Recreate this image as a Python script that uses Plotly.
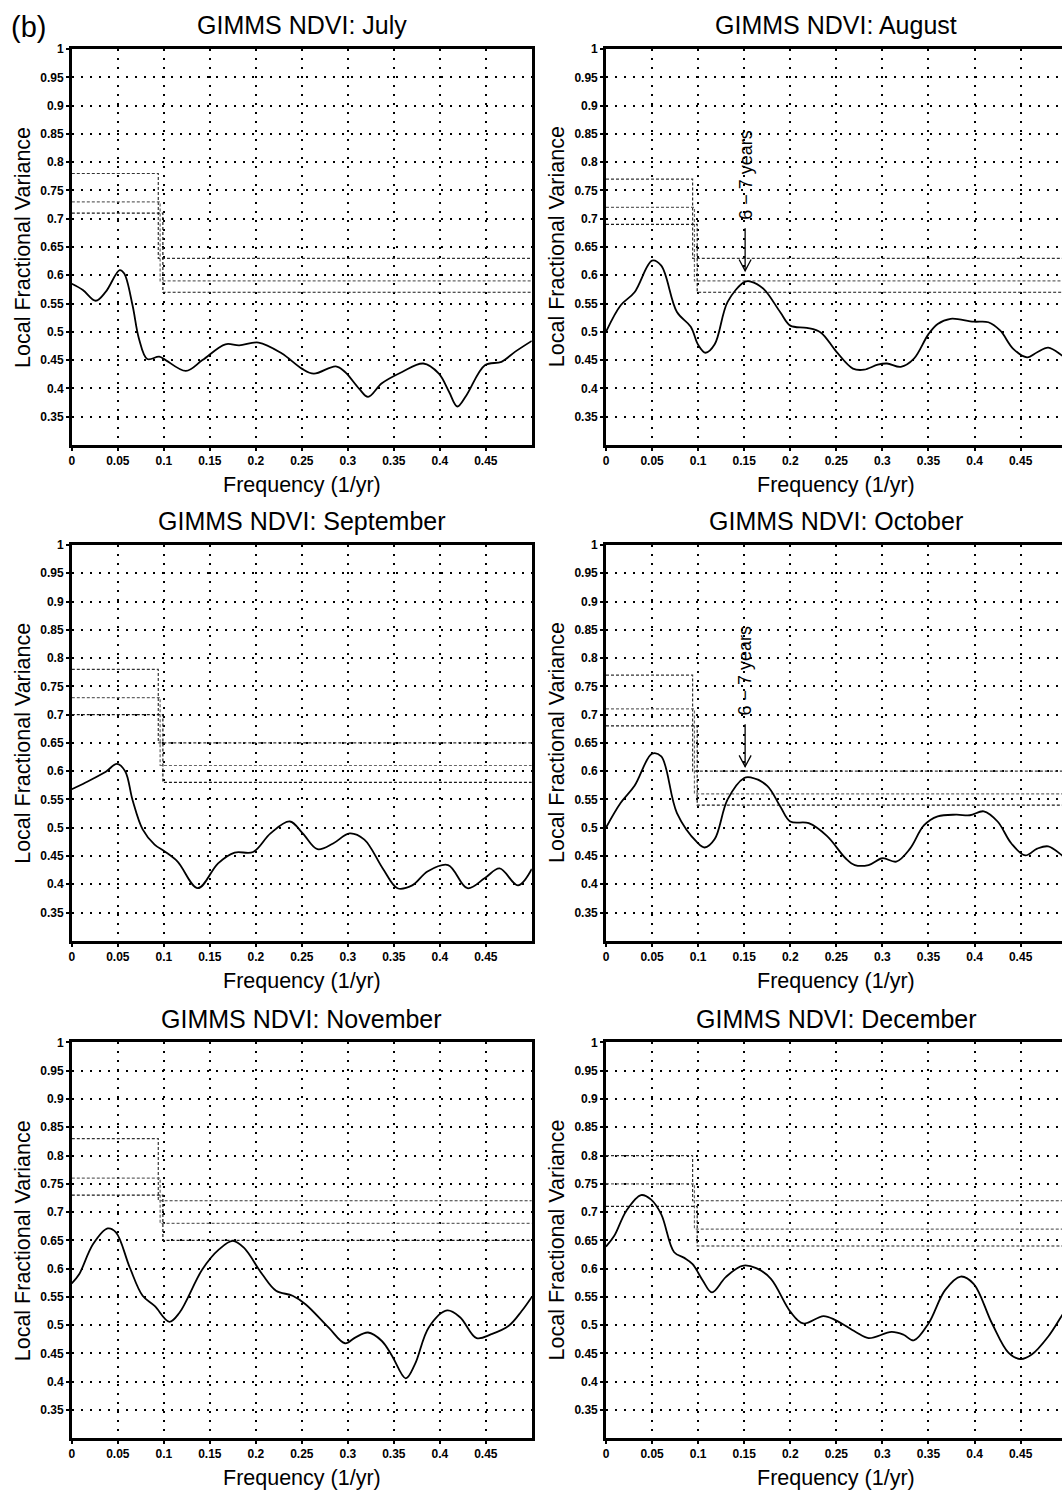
import plotly.graph_objects as go

# ---------------- data ----------------
months = ["July", "August", "September", "October", "November", "December"]

freq_jul = [0, 0.012, 0.026, 0.037, 0.052, 0.057, 0.066, 0.073, 0.082, 0.095, 0.102, 0.124, 0.142, 0.167,
            0.182, 0.203, 0.228, 0.25, 0.263, 0.287, 0.297, 0.312, 0.322, 0.337, 0.359, 0.382, 0.399, 0.41,
            0.419, 0.429, 0.449, 0.467, 0.482, 0.5]
lfv_jul = [0.585, 0.574, 0.555, 0.571, 0.609, 0.603, 0.547, 0.488, 0.452, 0.456, 0.45, 0.431, 0.45, 0.478,
           0.476, 0.481, 0.462, 0.435, 0.426, 0.439, 0.429, 0.4, 0.385, 0.409, 0.429, 0.444, 0.426, 0.394,
           0.368, 0.388, 0.441, 0.447, 0.465, 0.484]

freq_aug = [0, 0.016, 0.031, 0.05, 0.06, 0.077, 0.092, 0.1, 0.108, 0.118, 0.132, 0.15, 0.157, 0.171, 0.189,
            0.2, 0.218, 0.233, 0.25, 0.268, 0.28, 0.295, 0.305, 0.32, 0.334, 0.35, 0.36, 0.374, 0.399, 0.415,
            0.428, 0.442, 0.457, 0.468, 0.48, 0.495, 0.5]
lfv_aug = [0.5, 0.547, 0.57, 0.626, 0.617, 0.535, 0.509, 0.477, 0.463, 0.478, 0.553, 0.588, 0.589, 0.576,
           0.535, 0.511, 0.507, 0.499, 0.465, 0.435, 0.433, 0.442, 0.444, 0.438, 0.452, 0.496, 0.514, 0.523,
           0.518, 0.517, 0.502, 0.47, 0.455, 0.464, 0.472, 0.458, 0.452]

freq_sep = [0, 0.015, 0.037, 0.049, 0.058, 0.066, 0.077, 0.09, 0.101, 0.115, 0.137, 0.159, 0.177, 0.197,
            0.216, 0.237, 0.251, 0.267, 0.284, 0.302, 0.318, 0.338, 0.354, 0.37, 0.387, 0.409, 0.43, 0.449,
            0.465, 0.485, 0.5]
lfv_sep = [0.568, 0.58, 0.599, 0.613, 0.6, 0.549, 0.497, 0.47, 0.458, 0.44, 0.393, 0.437, 0.456, 0.457,
           0.49, 0.511, 0.49, 0.462, 0.472, 0.49, 0.479, 0.428, 0.393, 0.398, 0.423, 0.434, 0.393, 0.411,
           0.428, 0.398, 0.427]

freq_oct = [0, 0.016, 0.031, 0.05, 0.06, 0.077, 0.099, 0.107, 0.118, 0.132, 0.15, 0.157, 0.175, 0.189, 0.2,
            0.22, 0.24, 0.26, 0.27, 0.285, 0.3, 0.315, 0.33, 0.345, 0.36, 0.38, 0.395, 0.41, 0.425, 0.44,
            0.455, 0.468, 0.48, 0.495, 0.5]
lfv_oct = [0.5, 0.544, 0.574, 0.631, 0.626, 0.526, 0.474, 0.465, 0.48, 0.55, 0.588, 0.589, 0.574, 0.538,
           0.511, 0.508, 0.485, 0.446, 0.434, 0.434, 0.446, 0.44, 0.463, 0.504, 0.52, 0.523, 0.522, 0.529,
           0.511, 0.472, 0.451, 0.463, 0.467, 0.451, 0.445]

freq_nov = [0, 0.008, 0.023, 0.039, 0.048, 0.063, 0.077, 0.09, 0.106, 0.117, 0.142, 0.16, 0.175, 0.187,
            0.207, 0.222, 0.24, 0.254, 0.279, 0.297, 0.308, 0.322, 0.337, 0.348, 0.363, 0.373, 0.388, 0.408,
            0.422, 0.44, 0.456, 0.475, 0.489, 0.5]
lfv_nov = [0.574, 0.59, 0.643, 0.671, 0.664, 0.602, 0.552, 0.534, 0.506, 0.522, 0.599, 0.634, 0.649, 0.637,
           0.59, 0.561, 0.552, 0.537, 0.496, 0.468, 0.478, 0.487, 0.472, 0.446, 0.406, 0.431, 0.496, 0.526,
           0.514, 0.477, 0.484, 0.499, 0.525, 0.55]

freq_dec = [0, 0.009, 0.022, 0.038, 0.049, 0.06, 0.074, 0.085, 0.094, 0.105, 0.115, 0.13, 0.148, 0.163,
            0.179, 0.2, 0.214, 0.236, 0.249, 0.271, 0.285, 0.31, 0.323, 0.334, 0.35, 0.368, 0.385, 0.399,
            0.419, 0.437, 0.45, 0.462, 0.48, 0.494, 0.5]
lfv_dec = [0.639, 0.658, 0.702, 0.73, 0.722, 0.696, 0.629, 0.619, 0.608, 0.579, 0.558, 0.585, 0.605, 0.601,
           0.582, 0.524, 0.503, 0.516, 0.509, 0.488, 0.477, 0.488, 0.483, 0.473, 0.503, 0.562, 0.586, 0.573,
           0.503, 0.451, 0.44, 0.448, 0.48, 0.515, 0.53]

# significance levels: low-frequency band level and high-frequency band level
sig_low = {
    "July": [0.78, 0.73, 0.71], "August": [0.77, 0.72, 0.69], "September": [0.78, 0.73, 0.70],
    "October": [0.77, 0.71, 0.68], "November": [0.83, 0.76, 0.73], "December": [0.80, 0.75, 0.71],
}
sig_high = {
    "July": [0.63, 0.59, 0.57], "August": [0.63, 0.59, 0.57], "September": [0.65, 0.61, 0.58],
    "October": [0.60, 0.56, 0.54], "November": [0.72, 0.68, 0.65], "December": [0.72, 0.67, 0.64],
}
band_edge = [0.094, 0.096, 0.099]

freqs = [freq_jul, freq_aug, freq_sep, freq_oct, freq_nov, freq_dec]
lfvs = [lfv_jul, lfv_aug, lfv_sep, lfv_oct, lfv_nov, lfv_dec]

arrow_months = ["August", "October"]
arrow_freq = 0.151
arrow_tip = 0.608
arrow_tail = 0.683
arrow_label = "6 \u2212 7 years"

x_ticks = [0, 0.05, 0.1, 0.15, 0.2, 0.25, 0.3, 0.35, 0.4, 0.45]
x_tick_text = ["0", "0.05", "0.1", "0.15", "0.2", "0.25", "0.3", "0.35", "0.4", "0.45"]
y_ticks = [0.35, 0.4, 0.45, 0.5, 0.55, 0.6, 0.65, 0.7, 0.75, 0.8, 0.85, 0.9, 0.95, 1.0]
y_tick_text = ["0.35", "0.4", "0.45", "0.5", "0.55", "0.6", "0.65", "0.7", "0.75", "0.8", "0.85", "0.9",
               "0.95", "1"]

# ---------------- layout geometry (pixels) ----------------
W, H = 1062, 1494
col_px = [(69.0, 530.3), (604.7, 1066.7)]
row_px = [(42.3, 440.0), (540.5, 938.2), (1040.3, 1438.0)]

FONT = "Liberation Sans, Arial, sans-serif"
fig = go.Figure()
sig_colors = ["#333333", "#666666", "#1a1a1a"]

annotations = []
shapes = []
for i, m in enumerate(months):
    r, c = divmod(i, 2)
    ax_id = "" if i == 0 else str(i + 1)
    xa, ya = "x" + ax_id, "y" + ax_id
    for k in range(3):
        fig.add_trace(go.Scatter(
            x=[0, band_edge[k], band_edge[k], 0.5],
            y=[sig_low[m][k], sig_low[m][k], sig_high[m][k], sig_high[m][k]],
            mode="lines", line=dict(color=sig_colors[k], width=1.2, dash="3px,2px"),
            xaxis=xa, yaxis=ya, showlegend=False, hoverinfo="skip"))
    fig.add_trace(go.Scatter(
        x=freqs[i], y=lfvs[i], mode="lines",
        line=dict(color="black", width=1.8, shape="spline", smoothing=1.0),
        xaxis=xa, yaxis=ya, showlegend=False))

    x0p, x1p = col_px[c]
    y0p, y1p = row_px[r]
    dom_x1 = min(x1p, W) / W
    xmax = 0.5 * (min(x1p, W) - x0p) / (x1p - x0p)
    clipped = x1p > W
    xkey = "xaxis" + ax_id
    ykey = "yaxis" + ax_id
    fig.update_layout(**{
        xkey: dict(domain=[x0p / W, dom_x1], range=[0, xmax], anchor=ya,
                   tickvals=x_ticks, ticktext=x_tick_text,
                   showgrid=True, gridcolor="black", gridwidth=1.7, griddash="2px,7px",
                   showline=True, linecolor="black", linewidth=2.6, mirror=True,
                   ticks="outside", ticklen=3, tickwidth=1.5, tickcolor="black",
                   tickfont=dict(family=FONT, size=12, color="black", weight="bold"),
                   zeroline=False, fixedrange=True),
        ykey: dict(domain=[1 - y1p / H, 1 - y0p / H], range=[0.3, 1.0], anchor=xa,
                   tickvals=y_ticks, ticktext=y_tick_text,
                   showgrid=True, gridcolor="black", gridwidth=1.7, griddash="2px,7px",
                   showline=True, linecolor="black", linewidth=2.6, mirror=(not clipped),
                   ticks="outside", ticklen=3, tickwidth=1.5, tickcolor="black",
                   tickfont=dict(family=FONT, size=12, color="black", weight="bold"),
                   zeroline=False, fixedrange=True),
    })
    cx = (x0p + x1p) / 2
    annotations.append(dict(text="GIMMS NDVI: " + m, x=cx / W, y=1 - (y0p - 24) / H,
                            xref="paper", yref="paper", showarrow=False, xanchor="center",
                            yanchor="middle", font=dict(family=FONT, size=25, color="black")))
    annotations.append(dict(text="Frequency (1/yr)", x=cx / W, y=1 - (y1p + 40) / H,
                            xref="paper", yref="paper", showarrow=False, xanchor="center",
                            yanchor="middle", font=dict(family=FONT, size=21.5, color="black")))
    annotations.append(dict(text="Local Fractional Variance", x=(x0p - 49) / W,
                            y=1 - ((y0p + y1p) / 2) / H, textangle=-90,
                            xref="paper", yref="paper", showarrow=False, xanchor="center",
                            yanchor="middle", font=dict(family=FONT, size=21.5, color="black")))
    if m in arrow_months:
        shapes.append(dict(type="line", xref=xa, yref=ya, x0=arrow_freq, x1=arrow_freq,
                           y0=arrow_tail, y1=arrow_tip, line=dict(color="black", width=1.3)))
        dx, dy = 0.0065, 0.02
        shapes.append(dict(type="path", xref=xa, yref=ya,
                           path=f"M {arrow_freq - dx},{arrow_tip + dy} L {arrow_freq},{arrow_tip} "
                                f"L {arrow_freq + dx},{arrow_tip + dy}",
                           line=dict(color="black", width=1.3)))
        annotations.append(dict(text=arrow_label, x=arrow_freq, y=arrow_tail + 0.012, xref=xa, yref=ya,
                                showarrow=False, textangle=-90, xanchor="center", yanchor="bottom",
                                font=dict(family=FONT, size=18, color="black")))

annotations.append(dict(text="(b)", x=6 / W, y=1 - 20 / H, xref="paper", yref="paper", showarrow=False,
                        xanchor="left", yanchor="middle", font=dict(family=FONT, size=29, color="black")))

fig.update_layout(width=W, height=H, margin=dict(l=0, r=0, t=0, b=0),
                  paper_bgcolor="white", plot_bgcolor="white",
                  annotations=annotations, shapes=shapes, showlegend=False)

fig.write_html("out.html", config={"displayModeBar": False},
               post_script="document.body.style.margin='0px';")
